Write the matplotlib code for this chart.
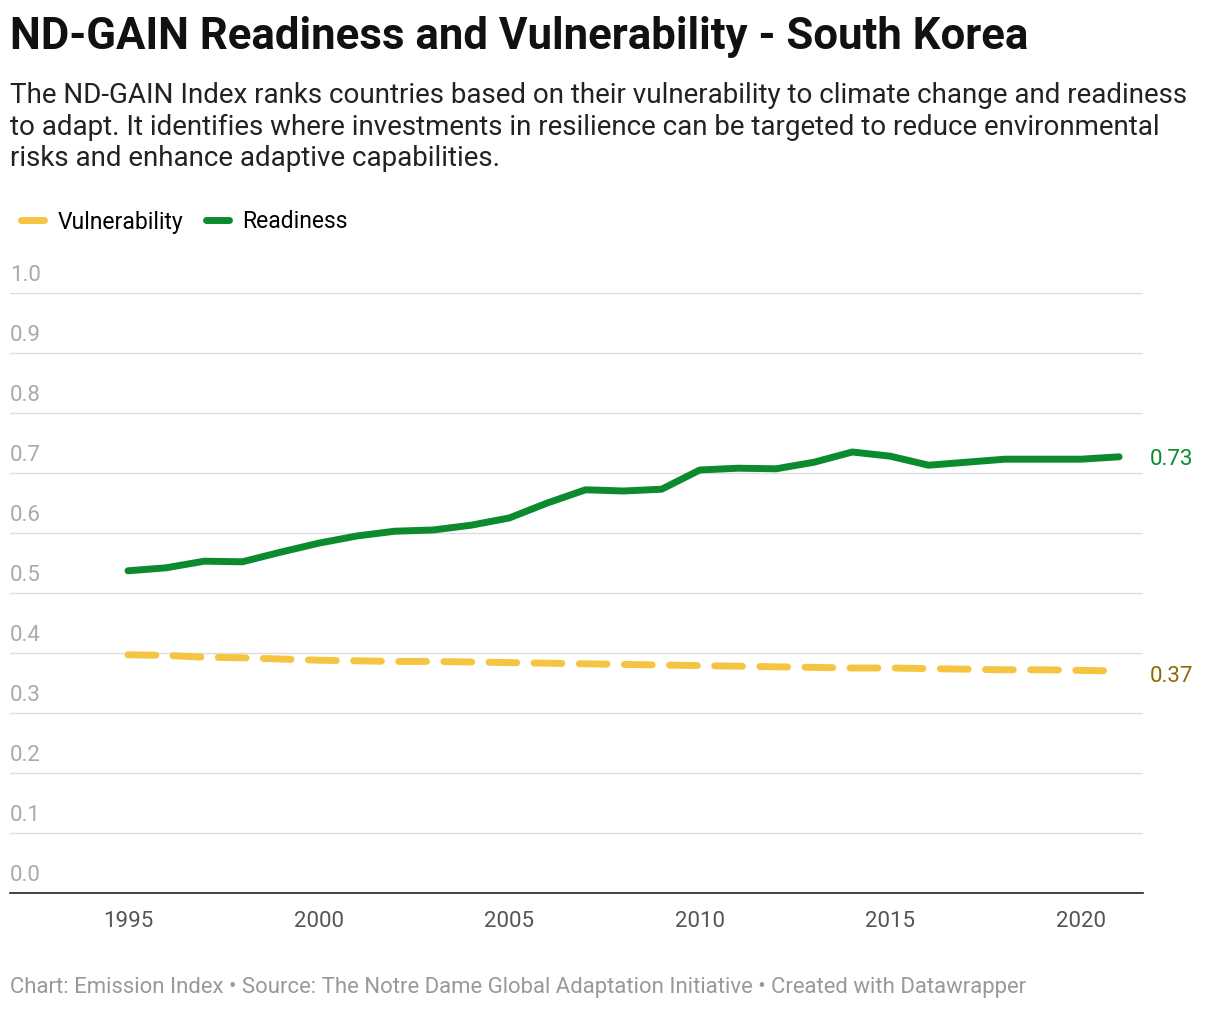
import matplotlib
matplotlib.use('Agg')
import matplotlib.pyplot as plt
from matplotlib.lines import Line2D

plt.rcParams['font.family'] = ['Roboto', 'DejaVu Sans']

years = list(range(1995, 2022))
readiness = [0.537, 0.542, 0.553, 0.552, 0.568, 0.583, 0.595, 0.603, 0.605, 0.613,
             0.625, 0.650, 0.672, 0.670, 0.673, 0.705, 0.708, 0.707, 0.718, 0.735,
             0.728, 0.713, 0.718, 0.723, 0.723, 0.723, 0.727]
vulnerability = [0.397, 0.396, 0.393, 0.392, 0.390, 0.388, 0.387, 0.386, 0.386, 0.385,
                 0.384, 0.383, 0.382, 0.381, 0.380, 0.379, 0.378, 0.377, 0.376, 0.375,
                 0.375, 0.374, 0.373, 0.372, 0.372, 0.371, 0.370]
yticks = [0.0, 0.1, 0.2, 0.3, 0.4, 0.5, 0.6, 0.7, 0.8, 0.9, 1.0]
xticks = [1995, 2000, 2005, 2010, 2015, 2020]

GREEN = '#0b8a2e'
YELLOW = '#f5c542'
W, H = 1220, 1010

fig = plt.figure(figsize=(W / 100, H / 100), dpi=100)
ax = fig.add_axes([10 / W, (H - 893) / H, 1133 / W, 600 / H])

ax.plot(years, readiness, color=GREEN, lw=5, solid_capstyle='round', solid_joinstyle='round')
ax.plot(years, vulnerability, color=YELLOW, lw=5, dashes=(4, 2.5), dash_capstyle='round')

ax.set_xlim(1995 - 118 / 38.12, 1995 + (1143 - 128) / 38.12)
ax.set_ylim(0, 1.0)
for s in ['top', 'right', 'left']:
    ax.spines[s].set_visible(False)
ax.spines['bottom'].set_color('#222222')
ax.spines['bottom'].set_linewidth(1.2)
ax.set_yticks(yticks)
ax.set_yticklabels([])
ax.tick_params(axis='y', length=0)
for v in yticks[1:]:
    ax.axhline(v, color='#dddddd', lw=1, zorder=0)
for v in yticks:
    ax.text(0, v + 0.012, f'{v:.1f}', transform=ax.get_yaxis_transform(),
            fontsize=16, color='#aaaaaa', va='bottom', ha='left')
ax.set_xticks(xticks)
ax.tick_params(axis='x', length=0, labelsize=16, labelcolor='#555555', pad=13)

ax.annotate(f'{readiness[-1]:.2f}', (years[-1], readiness[-1]), xytext=(22, -2),
            textcoords='offset points', color=GREEN, fontsize=16, va='center')
ax.annotate(f'{vulnerability[-1]:.2f}', (years[-1], vulnerability[-1]), xytext=(22, -4),
            textcoords='offset points', color='#8a6d00', fontsize=16, va='center')

fig.text(10 / W, 1 - 37 / H, 'ND-GAIN Readiness and Vulnerability - South Korea',
         fontsize=31.5, fontweight='bold', va='center', color='#111111')
fig.text(10 / W, 1 - 82 / H,
         'The ND-GAIN Index ranks countries based on their vulnerability to climate change and readiness\n'
         'to adapt. It identifies where investments in resilience can be targeted to reduce environmental\n'
         'risks and enhance adaptive capabilities.',
         fontsize=20, va='top', color='#222222', linespacing=1.22)

handles = [Line2D([], [], color=YELLOW, lw=5, solid_capstyle='round'),
           Line2D([], [], color=GREEN, lw=5, solid_capstyle='round')]
fig.legend(handles, ['Vulnerability', 'Readiness'], loc='center left',
           bbox_to_anchor=(0, 1 - 222 / H), ncol=2, frameon=False, fontsize=16.5,
           handlelength=1.0, handletextpad=0.6, columnspacing=1.0)

fig.text(10 / W, 1 - 987 / H,
         'Chart: Emission Index • Source: The Notre Dame Global Adaptation Initiative • Created with Datawrapper',
         fontsize=15.9, color='#999999', va='center')

fig.savefig('out.png', dpi=100, facecolor='white')
